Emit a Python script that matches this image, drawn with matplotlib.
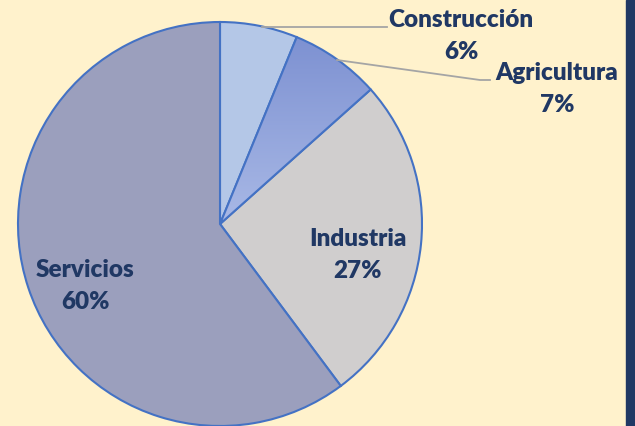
import matplotlib
matplotlib.use('Agg')
import matplotlib.pyplot as plt
import numpy as np
from matplotlib.patches import Rectangle
from matplotlib.colors import LinearSegmentedColormap

sectores = ['Construcción', 'Agricultura', 'Industria', 'Servicios']
valores = [6.2, 7.2, 26.4, 60.2]
etiquetas = ['6%', '7%', '27%', '60%']
colores = ['#B4C7E7', '#8497D6', '#D0CECE', '#9B9FBD']

plt.rcParams['font.family'] = ['Lato', 'DejaVu Sans']

W, H = 635, 426
cx, cy, r = 220, 224, 202

def px(x, y):
    # pixel position -> data coords (pie centre = 0,0, radius = 1)
    return (x - cx) / r, (cy - y) / r

fig = plt.figure(figsize=(W / 100, H / 100), dpi=100)
fig.patch.set_facecolor('#FFF2CC')
ax = fig.add_axes([0, 0, 1, 1])
ax.set_facecolor('#FFF2CC')

wedges, _ = ax.pie(valores, colors=colores, startangle=90, counterclock=False,
                   radius=1, wedgeprops=dict(edgecolor='#4472C4', linewidth=1.5))

# gradient fill on Agricultura
grad = np.linspace(0, 1, 256).reshape(-1, 1)
cmap = LinearSegmentedColormap.from_list('ag', ['#7A8ED0', '#A9B9E6'])
im = ax.imshow(grad, cmap=cmap, extent=(0, 1, 0, 1), origin='upper',
               aspect='auto', zorder=wedges[1].get_zorder())
im.set_clip_path(wedges[1])
wedges[1].set_zorder(wedges[1].get_zorder() + 0.1)
wedges[1].set_facecolor('none')

ax.set_xlim(-cx / r, (W - cx) / r)
ax.set_ylim(-(H - cy) / r, cy / r)
ax.set_aspect('equal')
ax.axis('off')

txt = dict(color='#203864', fontsize=17.5, fontweight='heavy', ha='center', va='center')
pos = {'Construcción': (461, 36), 'Agricultura': (557, 89),
       'Industria': (358, 255), 'Servicios': (85, 286)}
for s, e in zip(sectores, etiquetas):
    x, y = px(*pos[s])
    ax.text(x, y, s + '\n' + e, linespacing=1.55, **txt)

# leader lines
lc = dict(color='#A5A5A5', linewidth=1.3)
ax.plot(*zip(px(262, 27), px(387, 27)), **lc)
ax.plot(*zip(px(337, 60), px(480, 80), px(490, 80)), **lc)

fig.patches.append(Rectangle((626 / W, 0), 9 / W, 1, transform=fig.transFigure,
                             color='#203864', zorder=5))

fig.savefig('out.png', dpi=100, facecolor=fig.get_facecolor())
